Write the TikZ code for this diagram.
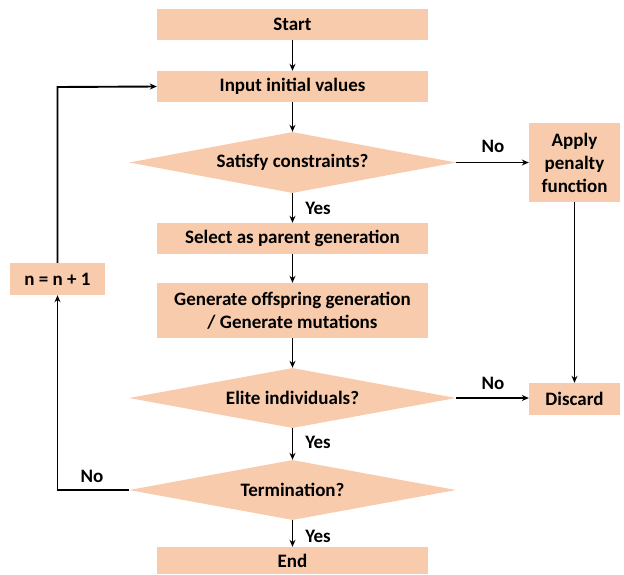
\documentclass[tikz,border=0pt]{standalone}
\usepackage{fontspec}
\setmainfont{Carlito}
\usetikzlibrary{shapes.geometric,arrows.meta}
\definecolor{peach}{HTML}{F8CBAD}
\begin{document}
\begin{tikzpicture}[x=1pt,y=1pt,
  every node/.style={font=\fontsize{19}{23}\selectfont\bfseries},
  box/.style={rectangle,fill=peach,inner sep=0pt,align=center},
  dia/.style={diamond,fill=peach,inner sep=0pt,aspect=5,minimum width=327pt},
  lbl/.style={inner sep=1pt},
  arr/.style={-{Stealth[length=7pt,width=6pt]},line width=1.9pt,black}]
\useasboundingbox (0,0) rectangle (624,-574);
\node[box,minimum width=271pt,minimum height=31pt] (start) at (292.5,-24.5) {Start};
\node[box,minimum width=271pt,minimum height=31pt] (input) at (292.5,-86.5) {Input initial values};
\node[dia,minimum height=61pt] (sat) at (292.5,-162.5) {Satisfy constraints?};
\node[box,minimum width=271pt,minimum height=31pt] (sel) at (292.5,-238.5) {Select as parent generation};
\node[box,minimum width=271pt,minimum height=55pt] (gen) at (292.5,-310.5) {Generate offspring generation\\/ Generate mutations};
\node[dia,minimum height=60pt] (elite) at (292.5,-398) {Elite individuals?};
\node[dia,minimum height=60pt] (term) at (292.5,-490) {Termination?};
\node[box,minimum width=271pt,minimum height=27pt] (end) at (292.5,-560.5) {End};
\node[box,minimum width=95pt,minimum height=32pt] (n) at (57.5,-279) {n = n + 1};
\node[box,minimum width=91pt,minimum height=79pt] (pen) at (574.5,-162.5) {Apply\\penalty\\function};
\node[box,minimum width=91pt,minimum height=32pt] (disc) at (574.5,-399) {Discard};

\draw[arr] (start) -- (input);
\draw[arr] (input.south) -- (sat.north);
\draw[arr] (sat.south) -- (sel.north);
\draw[arr] (sel) -- (gen);
\draw[arr] (gen.south) -- (elite.north);
\draw[arr] (elite.south) -- (term.north);
\draw[arr] (term.south) -- (end.north);
\draw[arr] (sat.east) -- (pen.west);
\draw[arr] (elite.east) -- (disc.west |- elite.east);
\draw[arr] (pen.south) -- (disc.north);
\coordinate (bl) at (57.5,-490);
\coordinate (tl) at (57.5,-87);
\draw[arr] (term.west) -- (bl) -- (n.south);
\draw[arr] (n.north) -- (tl) -- (input.west);

\node[lbl] at (493,-146) {No};
\node[lbl] at (493,-383) {No};
\node[lbl] at (92,-476) {No};
\node[lbl] at (318,-208) {Yes};
\node[lbl] at (318,-442) {Yes};
\node[lbl] at (318,-536) {Yes};
\end{tikzpicture}
\end{document}
